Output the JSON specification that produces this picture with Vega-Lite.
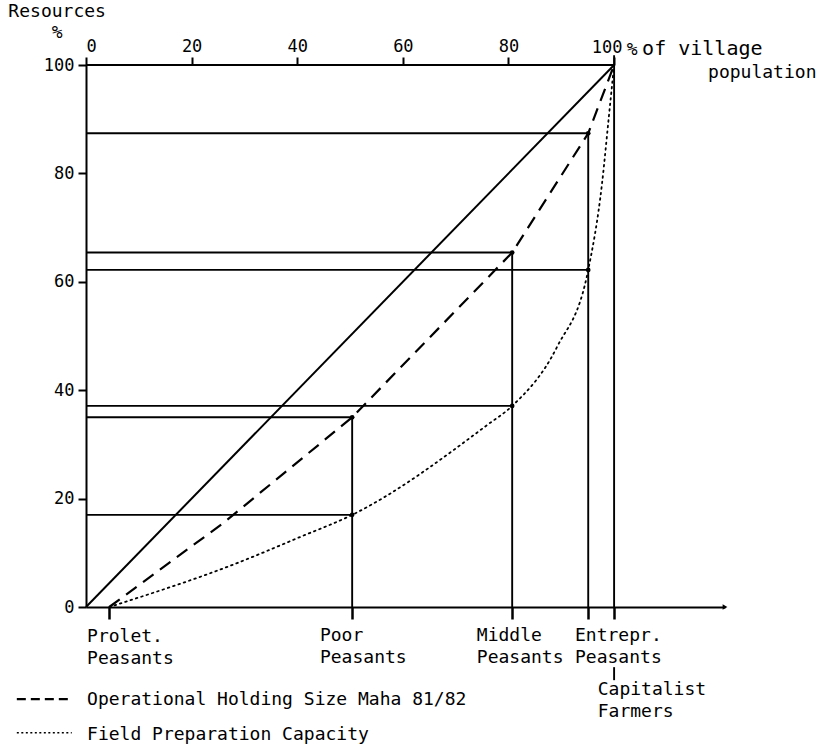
{
  "$schema": "https://vega.github.io/schema/vega-lite/v6.json",
  "width": 639,
  "height": 542,
  "autosize": {"type": "none"},
  "padding": {"left": 86, "top": 65, "right": 93, "bottom": 138},
  "background": "white",
  "config": {"view": {"stroke": null}, "font": "DejaVu Sans Mono"},
  "datasets": {
    "segs": [
      {"x": 0, "x2": 100, "y": 100, "y2": 100},
      {"x": 100, "x2": 100, "y": 0, "y2": 101.8},
      {"x": 50.4, "x2": 50.4, "y": 0, "y2": 35},
      {"x": 80.7, "x2": 80.7, "y": 0, "y2": 65.4},
      {"x": 95.1, "x2": 95.1, "y": 0, "y2": 87.4},
      {"x": 0, "x2": 95.1, "y": 87.4, "y2": 87.4},
      {"x": 0, "x2": 80.7, "y": 65.4, "y2": 65.4},
      {"x": 0, "x2": 95.1, "y": 62.2, "y2": 62.2},
      {"x": 0, "x2": 80.7, "y": 37.1, "y2": 37.1},
      {"x": 0, "x2": 50.4, "y": 35, "y2": 35},
      {"x": 0, "x2": 50.4, "y": 17, "y2": 17},
      {"x": 100, "x2": 100, "y": -11.1, "y2": -13.5}
    ],
    "diag": [{"x": 0, "y": 0}, {"x": 100, "y": 100}],
    "op": [
      {"x": 4.4, "y": 0},
      {"x": 26, "y": 15.5},
      {"x": 50.4, "y": 35},
      {"x": 80.7, "y": 65.4},
      {"x": 95.1, "y": 87.4},
      {"x": 100, "y": 100}
    ],
    "fp": [
      {"x": 4.4, "y": 0},
      {"x": 28.6, "y": 8.1},
      {"x": 40.5, "y": 12.9},
      {"x": 50.4, "y": 17},
      {"x": 76, "y": 33.6},
      {"x": 80.7, "y": 37.1},
      {"x": 89.2, "y": 48},
      {"x": 95.1, "y": 62.2},
      {"x": 97.7, "y": 78},
      {"x": 99, "y": 90.4},
      {"x": 100, "y": 100}
    ],
    "pts": [
      {"x": 50.4, "y": 35}, {"x": 50.4, "y": 17},
      {"x": 80.7, "y": 65.4}, {"x": 80.7, "y": 37.1},
      {"x": 95.1, "y": 87.4}, {"x": 95.1, "y": 62.2}
    ],
    "legdash": [{"x": -13.1, "x2": -2.7, "y": -17.0, "y2": -17.0}],
    "legdot": [{"x": -13.1, "x2": -2.7, "y": -23.2, "y2": -23.2}],
    "arrow": [{"x": 121, "y": 0}],
    "txt": [
      {"t": "Resources", "x": -14.7, "y": 108.8},
      {"t": "%", "x": -6.5, "y": 104.9},
      {"t": "%", "x": 102.4, "y": 101.8},
      {"t": "population", "x": 117.8, "y": 97.6},
      {"t": "Prolet.", "x": 0.2, "y": -6.4},
      {"t": "Peasants", "x": 0.2, "y": -10.5},
      {"t": "Poor", "x": 44.3, "y": -6.3},
      {"t": "Peasants", "x": 44.3, "y": -10.4},
      {"t": "Middle", "x": 74.0, "y": -6.3},
      {"t": "Peasants", "x": 74.0, "y": -10.4},
      {"t": "Entrepr.", "x": 92.6, "y": -6.3},
      {"t": "Peasants", "x": 92.6, "y": -10.4},
      {"t": "Capitalist", "x": 96.9, "y": -16.2},
      {"t": "Farmers", "x": 96.9, "y": -20.3},
      {"t": "Operational Holding Size Maha 81/82", "x": 0.2, "y": -18.1},
      {"t": "Field Preparation Capacity", "x": 0.2, "y": -24.5}
    ],
    "txt100": [{"t": "100", "x": 98.7, "y": 102.2}],
    "txtbig": [{"t": "of village", "x": 105.3, "y": 101.8}]
  },
  "resolve": {"axis": {"x": "independent", "y": "independent"}},
  "layer": [
    {
      "data": {"name": "segs"},
      "mark": {"type": "rule", "color": "black", "strokeWidth": 1.9},
      "encoding": {
        "x": {"field": "x", "type": "quantitative", "scale": {"domain": [0, 121], "nice": false, "zero": false},
          "axis": {"orient": "top", "values": [0, 20, 40, 60, 80, 100], "domain": false, "grid": false,
            "tickSize": 8, "tickWidth": 2, "tickColor": "black", "labelFont": "DejaVu Sans Mono", "labelFontSize": 17,
            "labelColor": "black", "labelPadding": 2, "title": null,
            "labelExpr": "datum.value == 100 ? '' : datum.label"}},
        "x2": {"field": "x2"},
        "y": {"field": "y", "type": "quantitative", "scale": {"domain": [0, 100], "nice": false, "zero": false},
          "axis": {"orient": "left", "values": [0, 20, 40, 60, 80, 100], "domain": true, "domainColor": "black",
            "domainWidth": 2, "grid": false, "tickSize": 8, "tickWidth": 2, "tickColor": "black",
            "labelFont": "DejaVu Sans Mono", "labelFontSize": 17, "labelColor": "black", "labelPadding": 4, "title": null}},
        "y2": {"field": "y2"}
      }
    },
    {
      "data": {"name": "diag"},
      "mark": {"type": "line", "color": "black", "strokeWidth": 2},
      "encoding": {
        "x": {"field": "x", "type": "quantitative", "scale": {"domain": [0, 121], "nice": false, "zero": false},
          "axis": {"orient": "bottom", "values": [4.4, 50.4, 80.7, 95.1, 100], "labels": false, "domain": true,
            "domainColor": "black", "domainWidth": 2, "grid": false, "tickSize": 12, "tickWidth": 2.5,
            "tickColor": "black", "title": null}},
        "y": {"field": "y", "type": "quantitative", "scale": {"domain": [0, 100], "nice": false, "zero": false}, "axis": null}
      }
    },
    {
      "data": {"name": "op"},
      "mark": {"type": "line", "color": "black", "strokeWidth": 2.2, "strokeDash": [13, 8]},
      "encoding": {
        "x": {"field": "x", "type": "quantitative", "scale": {"domain": [0, 121], "nice": false, "zero": false}, "axis": null},
        "y": {"field": "y", "type": "quantitative", "scale": {"domain": [0, 100], "nice": false, "zero": false}, "axis": null}
      }
    },
    {
      "data": {"name": "fp"},
      "mark": {"type": "line", "color": "black", "strokeWidth": 1.8, "strokeDash": [1.6, 4], "strokeCap": "round", "interpolate": "monotone"},
      "encoding": {
        "x": {"field": "x", "type": "quantitative", "scale": {"domain": [0, 121], "nice": false, "zero": false}, "axis": null},
        "y": {"field": "y", "type": "quantitative", "scale": {"domain": [0, 100], "nice": false, "zero": false}, "axis": null}
      }
    },
    {
      "data": {"name": "pts"},
      "mark": {"type": "point", "filled": true, "color": "black", "size": 22, "opacity": 1},
      "encoding": {
        "x": {"field": "x", "type": "quantitative", "scale": {"domain": [0, 121], "nice": false, "zero": false}, "axis": null},
        "y": {"field": "y", "type": "quantitative", "scale": {"domain": [0, 100], "nice": false, "zero": false}, "axis": null}
      }
    },
    {
      "data": {"name": "arrow"},
      "mark": {"type": "point", "shape": "triangle-right", "filled": true, "color": "black", "size": 30, "opacity": 1},
      "encoding": {
        "x": {"field": "x", "type": "quantitative", "scale": {"domain": [0, 121], "nice": false, "zero": false}, "axis": null},
        "y": {"field": "y", "type": "quantitative", "scale": {"domain": [0, 100], "nice": false, "zero": false}, "axis": null}
      }
    },
    {
      "data": {"name": "legdash"},
      "mark": {"type": "rule", "color": "black", "strokeWidth": 2.2, "strokeDash": [9, 5]},
      "encoding": {
        "x": {"field": "x", "type": "quantitative", "scale": {"domain": [0, 121], "nice": false, "zero": false}, "axis": null},
        "x2": {"field": "x2"},
        "y": {"field": "y", "type": "quantitative", "scale": {"domain": [0, 100], "nice": false, "zero": false}, "axis": null},
        "y2": {"field": "y2"}
      }
    },
    {
      "data": {"name": "legdot"},
      "mark": {"type": "rule", "color": "black", "strokeWidth": 1.6, "strokeDash": [2, 2.5]},
      "encoding": {
        "x": {"field": "x", "type": "quantitative", "scale": {"domain": [0, 121], "nice": false, "zero": false}, "axis": null},
        "x2": {"field": "x2"},
        "y": {"field": "y", "type": "quantitative", "scale": {"domain": [0, 100], "nice": false, "zero": false}, "axis": null},
        "y2": {"field": "y2"}
      }
    },
    {
      "data": {"name": "txt"},
      "mark": {"type": "text", "align": "left", "baseline": "alphabetic", "font": "DejaVu Sans Mono", "fontSize": 18, "color": "black"},
      "encoding": {
        "x": {"field": "x", "type": "quantitative", "scale": {"domain": [0, 121], "nice": false, "zero": false}, "axis": null},
        "y": {"field": "y", "type": "quantitative", "scale": {"domain": [0, 100], "nice": false, "zero": false}, "axis": null},
        "text": {"field": "t"}
      }
    },
    {
      "data": {"name": "txt100"},
      "mark": {"type": "text", "align": "center", "baseline": "alphabetic", "font": "DejaVu Sans Mono", "fontSize": 17, "color": "black"},
      "encoding": {
        "x": {"field": "x", "type": "quantitative", "scale": {"domain": [0, 121], "nice": false, "zero": false}, "axis": null},
        "y": {"field": "y", "type": "quantitative", "scale": {"domain": [0, 100], "nice": false, "zero": false}, "axis": null},
        "text": {"field": "t"}
      }
    },
    {
      "data": {"name": "txtbig"},
      "mark": {"type": "text", "align": "left", "baseline": "alphabetic", "font": "DejaVu Sans Mono", "fontSize": 20, "color": "black"},
      "encoding": {
        "x": {"field": "x", "type": "quantitative", "scale": {"domain": [0, 121], "nice": false, "zero": false}, "axis": null},
        "y": {"field": "y", "type": "quantitative", "scale": {"domain": [0, 100], "nice": false, "zero": false}, "axis": null},
        "text": {"field": "t"}
      }
    }
  ]
}
